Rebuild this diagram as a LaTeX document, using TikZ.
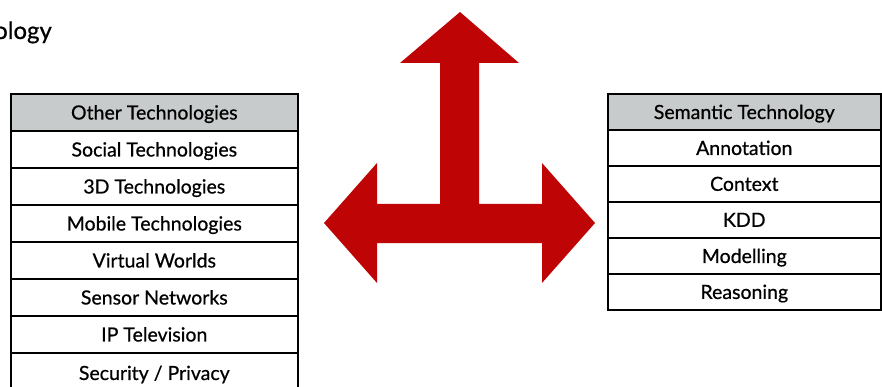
\documentclass[tikz,border=0pt]{standalone}
\usepackage{fontspec}
\setmainfont{Lato}
\newfontfamily\cellfont{Lato}[FakeBold=0.6]
\definecolor{hdrgray}{RGB}{200,203,203}
\definecolor{arrowred}{RGB}{190,4,4}
\begin{document}
\begin{tikzpicture}[x=1pt,y=-1pt,
  cell/.style={draw=black,line width=1.6pt,rectangle,inner sep=0pt,anchor=north west,
    text depth=0pt,font=\cellfont\fontsize{19.5}{22}\selectfont},
  hdr/.style={cell,fill=hdrgray}]
\useasboundingbox (0,0) rectangle (882,387);
% title fragment
\node[anchor=base west,inner sep=0pt,font=\cellfont\fontsize{24}{27}\selectfont] (title) at (-6,39) {ology};
% left table
\def\lw{287}
\node[hdr,minimum width=\lw pt,minimum height=37pt] (l0) at (10,93) {Other Technologies};
\node[cell,minimum width=\lw pt,minimum height=37pt] (l1) at (10,130) {Social Technologies};
\node[cell,minimum width=\lw pt,minimum height=37pt] (l2) at (10,167) {3D Technologies};
\node[cell,minimum width=\lw pt,minimum height=37pt] (l3) at (10,204) {Mobile Technologies};
\node[cell,minimum width=\lw pt,minimum height=37pt] (l4) at (10,241) {Virtual Worlds};
\node[cell,minimum width=\lw pt,minimum height=37pt] (l5) at (10,278) {Sensor Networks};
\node[cell,minimum width=\lw pt,minimum height=37pt] (l6) at (10,315) {IP Television};
\node[cell,minimum width=\lw pt,minimum height=40pt] (l7) at (10,352) {Security / Privacy};
% right table
\def\rw{273}
\node[hdr,minimum width=\rw pt,minimum height=36pt] (r0) at (607,93) {Semantic Technology};
\node[cell,minimum width=\rw pt,minimum height=36pt] (r1) at (607,129) {Annotation};
\node[cell,minimum width=\rw pt,minimum height=36pt] (r2) at (607,165) {Context};
\node[cell,minimum width=\rw pt,minimum height=36pt] (r3) at (607,201) {KDD};
\node[cell,minimum width=\rw pt,minimum height=36pt] (r4) at (607,237) {Modelling};
\node[cell,minimum width=\rw pt,minimum height=36pt] (r5) at (607,273) {Reasoning};
% three-way arrow
\fill[arrowred] (460,12) -- (519,63) -- (479,63) -- (479,204) -- (542,204) -- (542,163)
  -- (595,223) -- (542,283) -- (542,243) -- (377,243) -- (377,283) -- (324,223)
  -- (377,163) -- (377,204) -- (440,204) -- (440,63) -- (400,63) -- cycle;
\end{tikzpicture}
\end{document}
